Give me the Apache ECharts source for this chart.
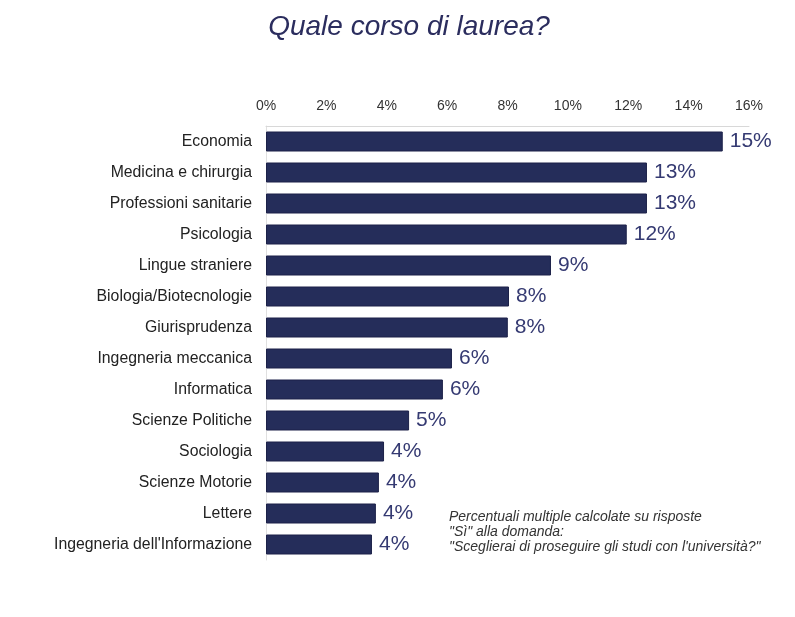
<!DOCTYPE html>
<html><head><meta charset="utf-8">
<script src="https://cdn.jsdelivr.net/npm/echarts@6/dist/echarts.min.js"></script>
<style>html,body{margin:0;padding:0;background:#fff}#c{width:795px;height:617px}</style>
</head><body><div id="c"></div>
<script>
const categories = ["Economia","Medicina e chirurgia","Professioni sanitarie","Psicologia","Lingue straniere","Biologia/Biotecnologie","Giurisprudenza","Ingegneria meccanica","Informatica","Scienze Politiche","Sociologia","Scienze Motorie","Lettere","Ingegneria dell'Informazione"];
const values = [15.13,12.62,12.62,11.95,9.44,8.05,8.01,6.16,5.86,4.74,3.91,3.74,3.64,3.51];
const valueLabels = ["15%","13%","13%","12%","9%","8%","8%","6%","6%","5%","4%","4%","4%","4%"];
const xTicks = [0,2,4,6,8,10,12,14,16];
const noteLines = ["Percentuali multiple calcolate su risposte","\"Sì\" alla domanda:","\"Sceglierai di proseguire gli studi con l'università?\""];

const chart = echarts.init(document.getElementById('c'), null, {renderer:'canvas'});
chart.setOption({
  animation:false,
  backgroundColor:'#fff',
  title:{text:'Quale corso di laurea?', left:404, textAlign:'center', top:8,
    textStyle:{fontFamily:'Liberation Sans, Arial, sans-serif', fontStyle:'italic', fontWeight:'normal', fontSize:28, color:'#2b2d5e'}},
  grid:{left:266, right:46, top:126, bottom:57, containLabel:false},
  xAxis:{type:'value', position:'top', min:xTicks[0], max:xTicks[xTicks.length-1], interval:2,
    axisLine:{show:true, lineStyle:{color:'#d8d8d8'}}, axisTick:{show:false}, splitLine:{show:false},
    axisLabel:{margin:13, formatter:v=>v+'%', fontFamily:'Liberation Sans, Arial, sans-serif', fontSize:14, color:'#333'}},
  yAxis:{type:'category', inverse:true, data:categories,
    axisLine:{show:true, lineStyle:{color:'#e0e0e0'}}, axisTick:{show:false},
    axisLabel:{margin:14, fontFamily:'Liberation Sans, Arial, sans-serif', fontSize:15.8, color:'#222'}},
  series:[{type:'bar', data:values, barWidth:20,
    itemStyle:{color:'#252d5a', borderColor:'#1c2148', borderWidth:1},
    label:{show:true, position:'right', distance:7, formatter:p=>valueLabels[p.dataIndex],
      fontFamily:'Liberation Sans, Arial, sans-serif', fontSize:21, color:'#353a72'}}],
  graphic:[{type:'text', left:449, top:510,
    style:{text:noteLines.join('\n'), font:'italic 14px "Liberation Sans", Arial, sans-serif', fill:'#333', lineHeight:15}}]
});
</script></body></html>
